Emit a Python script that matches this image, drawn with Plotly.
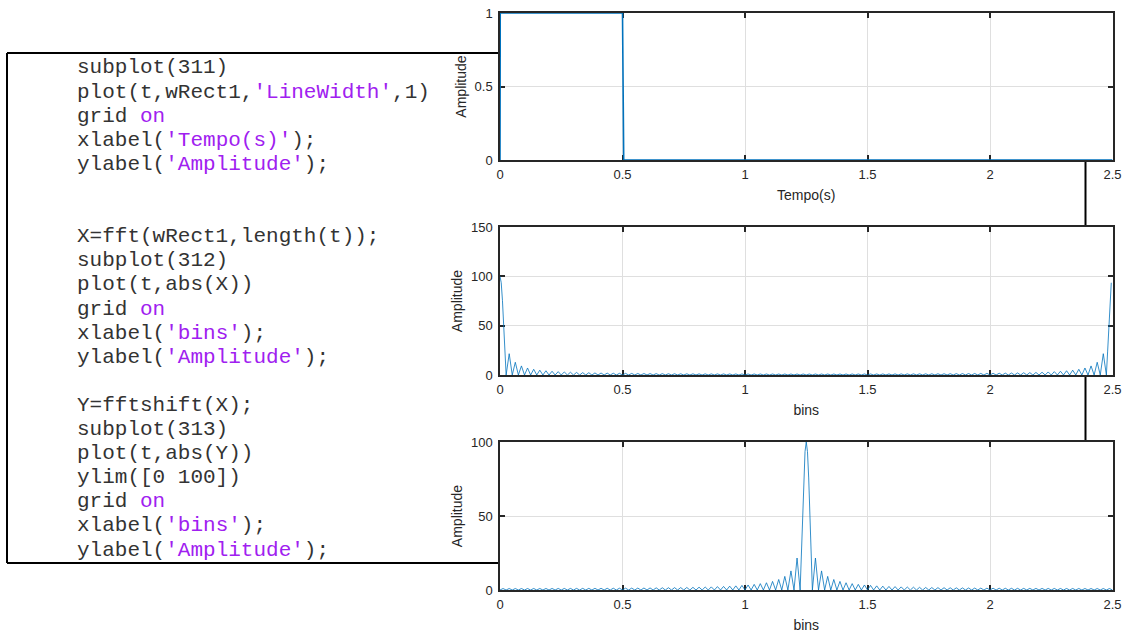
import plotly.graph_objects as go

# ---------------- data ----------------
# subplot(311): rectangular window wRect1 vs t
t_rect = [0.0, 0.001, 0.5, 0.505, 2.5]
w_rect = [0, 1, 1, 0, 0]

# subplot(312)/(313): |fft|
MAIN_PEAK = 100
MAIN_LOBE_OFFSETS = [0.005, 0.01, 0.015, 0.02]     # distance from the main-lobe centre
MAIN_LOBE_VALUES = [93.5, 75.7, 50.5, 23.4]        # amplitude on the main-lobe flanks
LOBE_WIDTH = 0.025
SIDELOBE_PEAKS = [21.6, 12.9, 9.2, 7.1, 5.8, 4.9, 4.3, 3.8, 3.4, 3.1,
                  2.8, 2.6, 2.4, 2.3, 2.1, 2.0, 1.9, 1.8, 1.7, 1.65,
                  1.6, 1.55, 1.5, 1.45, 1.4, 1.35, 1.3, 1.28, 1.25, 1.22,
                  1.2, 1.17, 1.15, 1.13, 1.11, 1.1, 1.08, 1.07, 1.06, 1.05,
                  1.04, 1.03, 1.02, 1.02, 1.01, 1.0, 1.0, 1.0, 1.0]

x_ticks = [0, 0.5, 1, 1.5, 2, 2.5]
y1_ticks = [0, 0.5, 1]
y2_ticks = [0, 50, 100, 150]
y3_ticks = [0, 50, 100]

CODE_LINES = [
    "subplot(311)",
    "plot(t,wRect1,<S>'LineWidth'</S>,1)",
    "grid <S>on</S>",
    "xlabel(<S>'Tempo(s)'</S>);",
    "ylabel(<S>'Amplitude'</S>);",
    "",
    "",
    "X=fft(wRect1,length(t));",
    "subplot(312)",
    "plot(t,abs(X))",
    "grid <S>on</S>",
    "xlabel(<S>'bins'</S>);",
    "ylabel(<S>'Amplitude'</S>);",
    "",
    "Y=fftshift(X);",
    "subplot(313)",
    "plot(t,abs(Y))",
    "ylim([0 100])",
    "grid <S>on</S>",
    "xlabel(<S>'bins'</S>);",
    "ylabel(<S>'Amplitude'</S>);",
]

# ---------------- build series ----------------
# unshifted spectrum: main lobe at both ends, sidelobes toward the middle
x2, y2 = [0.0], [MAIN_PEAK]
x2 += MAIN_LOBE_OFFSETS
y2 += MAIN_LOBE_VALUES
x2 += [LOBE_WIDTH]
y2 += [0]
for j, p in enumerate(SIDELOBE_PEAKS, start=1):
    x2 += [LOBE_WIDTH * (j + 0.5), LOBE_WIDTH * (j + 1)]
    y2 += [p, 0]
for j in range(len(SIDELOBE_PEAKS), 0, -1):
    p = SIDELOBE_PEAKS[j - 1]
    x2 += [2.5 - LOBE_WIDTH * (j + 0.5), 2.5 - LOBE_WIDTH * j]
    y2 += [p, 0]
for off, v in zip(MAIN_LOBE_OFFSETS[::-1], MAIN_LOBE_VALUES[::-1]):
    x2.append(2.5 - off)
    y2.append(v)

# shifted spectrum: main lobe centred at 1.25
c = 1.25
x3, y3 = [0.0], [0]
for j in range(len(SIDELOBE_PEAKS), 0, -1):
    p = SIDELOBE_PEAKS[j - 1]
    x3 += [c - LOBE_WIDTH * (j + 0.5), c - LOBE_WIDTH * j]
    y3 += [p, 0]
for off, v in zip(MAIN_LOBE_OFFSETS[::-1], MAIN_LOBE_VALUES[::-1]):
    x3.append(c - off)
    y3.append(v)
x3.append(c)
y3.append(MAIN_PEAK)
for off, v in zip(MAIN_LOBE_OFFSETS, MAIN_LOBE_VALUES):
    x3.append(c + off)
    y3.append(v)
x3.append(c + LOBE_WIDTH)
y3.append(0)
for j, p in enumerate(SIDELOBE_PEAKS, start=1):
    x3 += [c + LOBE_WIDTH * (j + 0.5), c + LOBE_WIDTH * (j + 1)]
    y3 += [p, 0]

# ---------------- figure ----------------
W, H = 1127, 633
BLUE = "#0072BD"
AX = "#262626"
GRID = "#dfdfdf"
PURPLE = "#A020F0"


def px_x(v):
    return v / W


def px_y(v):
    return 1 - v / H


x_dom = [px_x(500), px_x(1112.5)]
rows = [(13, 160), (227, 375), (442, 590)]

fig = go.Figure()
fig.add_trace(go.Scatter(x=t_rect, y=w_rect, mode="lines",
                         line=dict(color=BLUE, width=1.6),
                         xaxis="x", yaxis="y", showlegend=False))
fig.add_trace(go.Scatter(x=x2, y=y2, mode="lines",
                         line=dict(color=BLUE, width=0.8),
                         xaxis="x2", yaxis="y2", showlegend=False))
fig.add_trace(go.Scatter(x=x3, y=y3, mode="lines",
                         line=dict(color=BLUE, width=0.8),
                         xaxis="x3", yaxis="y3", showlegend=False))

tick_font = dict(family="Liberation Sans, Arial, sans-serif", size=13, color=AX)
title_font = dict(family="Liberation Sans, Arial, sans-serif", size=14, color=AX)

common_x = dict(range=[0, 2.5], tickvals=x_ticks, showgrid=True, gridcolor=GRID,
                gridwidth=1, zeroline=False, showline=True, linecolor=AX,
                linewidth=1.5, mirror="ticks", ticks="inside", ticklen=5,
                tickwidth=1.5, tickcolor=AX, tickfont=tick_font,
                ticklabelstandoff=2, fixedrange=True, domain=x_dom,
                layer="below traces")
common_y = dict(showgrid=True, gridcolor=GRID, gridwidth=1, zeroline=False,
                showline=True, linecolor=AX, linewidth=1.5, mirror="ticks",
                ticks="inside", ticklen=5, tickwidth=1.5, tickcolor=AX,
                tickfont=tick_font, ticklabelstandoff=3, fixedrange=True,
                layer="below traces",
                title=dict(text="Amplitude", font=title_font, standoff=5))

x_titles = ["Tempo(s)", "bins", "bins"]
y_ranges = [[0, 1], [0, 150], [0, 100]]
y_tickvals = [y1_ticks, y2_ticks, y3_ticks]

layout = dict(autosize=True, margin=dict(l=0, r=0, t=0, b=0, autoexpand=False),
              paper_bgcolor="white", plot_bgcolor="white",
              showlegend=False)
for i in range(3):
    sx = "" if i == 0 else str(i + 1)
    top, bot = rows[i]
    xa = dict(common_x)
    xa["anchor"] = "y" + sx
    xa["title"] = dict(text=x_titles[i], font=title_font, standoff=9)
    ya = dict(common_y)
    ya["anchor"] = "x" + sx
    ya["domain"] = [px_y(bot), px_y(top)]
    ya["range"] = y_ranges[i]
    ya["tickvals"] = y_tickvals[i]
    layout["xaxis" + sx] = xa
    layout["yaxis" + sx] = ya

# code listing box (only the visible segments outside the axes)
box_l, box_t, box_r, box_b = 7, 53, 1085.5, 563
ax_left = 500
segs = [
    (box_l, box_t, ax_left, box_t),
    (box_l, box_t, box_l, box_b),
    (box_l, box_b, ax_left, box_b),
    (box_r, rows[0][1], box_r, rows[1][0]),
    (box_r, rows[1][1], box_r, rows[2][0]),
]
shapes = []
for (xa0, ya0, xa1, ya1) in segs:
    shapes.append(dict(type="line", xref="paper", yref="paper",
                       x0=px_x(xa0), y0=px_y(ya0), x1=px_x(xa1), y1=px_y(ya1),
                       line=dict(color="black", width=2), layer="below"))
layout["shapes"] = shapes

annotations = []
line_y0, line_dy = 68, 24.1
for k, ln in enumerate(CODE_LINES):
    if not ln:
        continue
    txt = (ln.replace("<S>", f'<span style="color:{PURPLE}">')
             .replace("</S>", "</span>"))
    annotations.append(dict(text=txt, xref="paper", yref="paper",
                            x=px_x(75), y=px_y(line_y0 + k * line_dy),
                            xanchor="left", yanchor="middle", showarrow=False,
                            font=dict(family="Liberation Mono, Courier New, monospace",
                                      size=21, color="#333333")))
layout["annotations"] = annotations

fig.update_layout(**layout)
fig.write_html("out.html",
               config={"displayModeBar": False, "responsive": True},
               default_width="100vw", default_height="100vh",
               post_script="document.documentElement.style.margin='0';"
                           "document.body.style.margin='0';"
                           "document.body.style.overflow='hidden';")
